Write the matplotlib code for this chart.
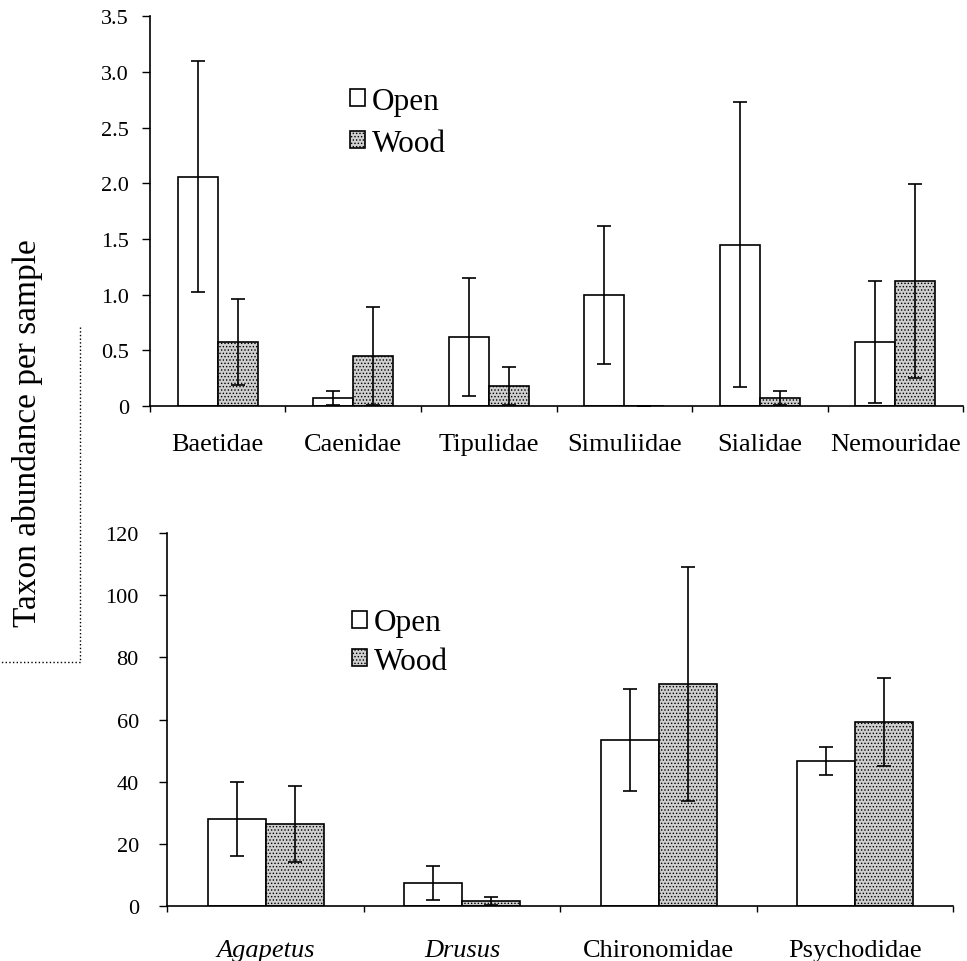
import matplotlib
matplotlib.use('Agg')
from matplotlib import pyplot as plt
from matplotlib.lines import Line2D
import numpy as np

plt.rcParams['font.family'] = ['Liberation Serif', 'DejaVu Serif']
plt.rcParams['hatch.linewidth'] = 0.6

# top panel
top_taxa = ['Baetidae', 'Caenidae', 'Tipulidae', 'Simuliidae', 'Sialidae', 'Nemouridae']
top_open = [2.06, 0.07, 0.62, 1.00, 1.45, 0.575]
top_open_err = [1.04, 0.06, 0.53, 0.62, 1.28, 0.55]
top_wood = [0.575, 0.45, 0.18, 0.0, 0.07, 1.12]
top_wood_err = [0.39, 0.44, 0.17, 0.0, 0.06, 0.87]

# bottom panel
bot_taxa = ['Agapetus', 'Drusus', 'Chironomidae', 'Psychodidae']
bot_italic = [True, True, False, False]
bot_open = [28.0, 7.4, 53.4, 46.7]
bot_open_err = [11.9, 5.5, 16.3, 4.4]
bot_wood = [26.4, 1.6, 71.4, 59.2]
bot_wood_err = [12.2, 1.3, 37.5, 14.0]

fig = plt.figure(figsize=(9.67, 9.62), dpi=100)
ax1 = fig.add_axes([0.155, 0.577, 0.841, 0.405])
ax2 = fig.add_axes([0.173, 0.057, 0.813, 0.388])

width = 0.295
open_style = dict(color='white', edgecolor='black', linewidth=1.2)
wood_style = dict(color='#cfcfcf', edgecolor='black', linewidth=1.2, hatch='.....')
err_style = dict(fmt='none', ecolor='black', elinewidth=1.2, capsize=5, capthick=1.2)


def draw_panel(ax, taxa, o, oe, w, we, yticks, ylabels, leg_xy, leg_space, ypad, xpad):
    x = np.arange(len(taxa)) + 0.5
    b1 = ax.bar(x - width / 2, o, width, **open_style)
    b2 = ax.bar(x + width / 2, w, width, **wood_style)
    ax.errorbar(x - width / 2, o, yerr=oe, **err_style)
    ax.errorbar(x + width / 2, w, yerr=we, **err_style)
    ax.set_xlim(0, len(taxa))
    ax.set_ylim(yticks[0], yticks[-1])
    ax.set_yticks(yticks)
    ax.set_yticklabels(ylabels, fontsize=16)
    ax.set_xticks(np.arange(len(taxa) + 1))
    ax.set_xticklabels([])
    ax.set_xticks(x, minor=True)
    ax.tick_params(axis='x', which='major', length=4, width=1, direction='out')
    ax.tick_params(axis='x', which='minor', length=0, pad=xpad)
    ax.tick_params(axis='y', length=5.5, width=1, pad=ypad)
    for s in ['top', 'right']:
        ax.spines[s].set_visible(False)
    for s in ['left', 'bottom']:
        ax.spines[s].set_linewidth(1.2)
    ax.legend([b1, b2], ['Open', 'Wood'], loc='upper left', bbox_to_anchor=leg_xy,
              frameon=False, fontsize=22.5, handlelength=0.48, handleheight=0.45,
              handletextpad=0.22, labelspacing=leg_space, borderpad=0, borderaxespad=0)
    return x


x1 = draw_panel(ax1, top_taxa, top_open, top_open_err, top_wood, top_wood_err,
                [0, 0.5, 1.0, 1.5, 2.0, 2.5, 3.0, 3.5],
                ['0', '0.5', '1.0', '1.5', '2.0', '2.5', '3.0', '3.5'],
                (0.246, 0.819), 0.42, 9.5, 19.5)
ax1.set_xticklabels(top_taxa, minor=True, fontsize=19)

x2 = draw_panel(ax2, bot_taxa, bot_open, bot_open_err, bot_wood, bot_wood_err,
                [0, 20, 40, 60, 80, 100, 120],
                ['0', '20', '40', '60', '80', '100', '120'],
                (0.235, 0.7976), 0.3, 15, 23.5)
ax2.set_xticklabels(bot_taxa, minor=True, fontsize=19)
for lab, it in zip(ax2.get_xticklabels(minor=True), bot_italic):
    if it:
        lab.set_style('italic')

fig.text(0.028, 1 - 433 / 962, 'Taxon abundance per sample', rotation=90, fontsize=24,
         ha='center', va='center')
# dotted bracket
fig.add_artist(Line2D([0.083, 0.083, 0.0], [1 - 328 / 962, 1 - 663 / 962, 1 - 663 / 962],
                      transform=fig.transFigure, color='black', linestyle=':', linewidth=1))

fig.savefig('out.png', dpi=100)
